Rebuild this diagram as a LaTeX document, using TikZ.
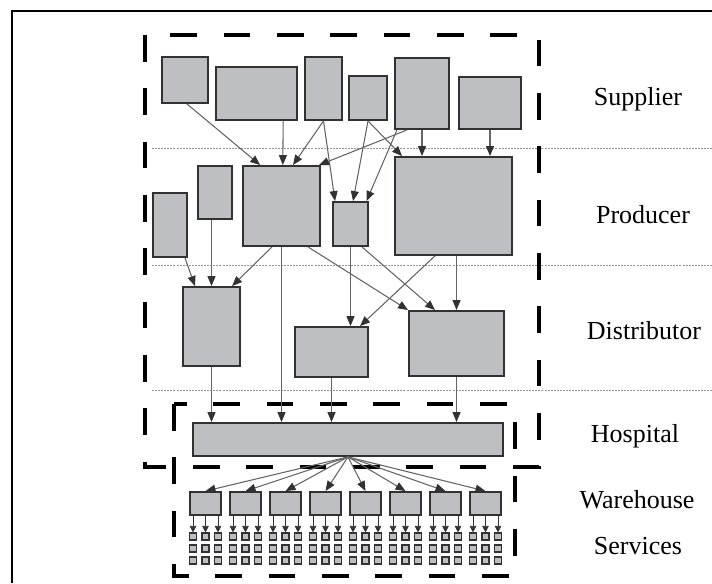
\documentclass[tikz,border=0pt]{standalone}
\usepackage{fontspec}
\setmainfont{Liberation Serif}
\usetikzlibrary{arrows.meta}

\definecolor{boxfill}{RGB}{190,191,195}
\definecolor{boxline}{RGB}{50,50,50}
\definecolor{arrline}{RGB}{100,100,100}
\definecolor{sepline}{RGB}{150,150,150}

\begin{document}
\begin{tikzpicture}[x=0.75pt,y=-0.75pt,
    box/.style={draw=boxline,fill=boxfill,line width=1.4pt,inner sep=0pt},
    svc/.style={draw=boxline,fill=boxfill,line width=1.1pt,inner sep=0pt,minimum size=5pt},
    arr/.style={arrline,line width=0.8pt,-{Triangle[length=7.5pt,width=6pt,color=boxline]}},
    smallarr/.style={boxline,line width=0.7pt,-{Triangle[length=5pt,width=5pt]}},
    group/.style={draw=black,line width=2.6pt,dash pattern=on 20pt off 20pt},
    sep/.style={draw=sepline,line width=0.7pt,dash pattern=on 1.5pt off 0.8pt},
    layer/.style={font=\fontsize{19.5}{22}\selectfont}]
  \useasboundingbox (0,0) rectangle (712,583);
  % frame
  \draw[line width=1.3pt] (12,583) -- (12,11) -- (712,11);

  % layer separators
  \draw[sep] (152,148) -- (712,148);
  \draw[sep] (152,265) -- (712,265);
  \draw[sep] (152,390) -- (712,390);

  % groups
  \draw[group] (145,35) rectangle (539,467);
  \draw[group] (174,404) rectangle (515,576);

  % suppliers
  \node[box,minimum width=34.5pt,minimum height=34.5pt] (s1) at (185,80) {};
  \node[box,minimum width=60.75pt,minimum height=39.75pt] (s2) at (256.5,93.5) {};
  \node[box,minimum width=27.75pt,minimum height=47.25pt] (s3) at (323.5,88.5) {};
  \node[box,minimum width=28.5pt,minimum height=33pt] (s4) at (368,98) {};
  \node[box,minimum width=40.5pt,minimum height=53.25pt] (s5) at (422,93.5) {};
  \node[box,minimum width=46.5pt,minimum height=39pt] (s6) at (490,103) {};

  % producers
  \node[box,minimum width=25.5pt,minimum height=48pt] (p1) at (170,225) {};
  \node[box,minimum width=25.5pt,minimum height=39.75pt] (p2) at (215,192.5) {};
  \node[box,minimum width=57.75pt,minimum height=60pt] (p3) at (281.5,206) {};
  \node[box,minimum width=26.25pt,minimum height=33pt] (p4) at (350.5,224) {};
  \node[box,minimum width=87.75pt,minimum height=73.5pt] (p5) at (453.5,206) {};

  % distributors
  \node[box,minimum width=42.75pt,minimum height=59.25pt] (d1) at (211.5,326.5) {};
  \node[box,minimum width=54.75pt,minimum height=37.5pt] (d2) at (331.5,352) {};
  \node[box,minimum width=71.25pt,minimum height=48.75pt] (d3) at (456.5,343.5) {};

  % hospital
  \node[box,minimum width=232.5pt,minimum height=24.75pt] (h) at (348,439.5) {};

  % warehouses and services
  \foreach \i in {0,...,7} {
    \node[box,minimum width=23.25pt,minimum height=17.25pt] (w\i) at (205.5+40*\i,503.5) {};
    \foreach \j/\dx in {1/-12.5,2/0,3/12.5} {
      \foreach \k/\y in {1/536.5,2/548.5,3/560.5}
        \node[svc] (v\i\j\k) at (205.5+40*\i+\dx,\y) {};
      \draw[smallarr] (w\i.south -| v\i\j1.north) -- (v\i\j1.north);
    }
    \draw[arr] (h.south) -- (w\i.north);
  }

  % supplier -> producer
  \path[arr]
    ([xshift=1.5pt]s1.south) edge ([xshift=-16pt]p3.north)
    ([xshift=20pt]s2.south) edge ([xshift=1pt]p3.north)
    (s3.south) edge ([xshift=8.6pt]p3.north)
               edge ([xshift=-11.6pt]p4.north)
    (s4.south) edge ([xshift=1.9pt]p4.north)
               edge ([xshift=6pt]p5.north west)
    ([xshift=-11.25pt]s5.south) edge ([xshift=-1.5pt]p3.north east)
    ([xshift=-18.75pt]s5.south) edge ([xshift=12pt]p4.north)
    (s5.south) edge (s5.south |- p5.north)
    (s6.south) edge (s6.south |- p5.north);

  % producer -> distributor
  \path[arr]
    ([xshift=11.25pt]p1.south) edge ([xshift=-12.4pt]d1.north)
    (p2.south -| d1.north) edge (d1.north)
    ([xshift=-7.1pt]p3.south) edge ([xshift=15.4pt]d1.north)
    ([xshift=19.9pt]p3.south) edge (d3.north west)
    (p4.south) edge (p4.south |- d2.north)
    ([xshift=8.6pt]p4.south) edge ([xshift=-16.1pt]d3.north)
    ([xshift=-13.9pt]p5.south) edge ([xshift=21.4pt]d2.north)
    (p5.south -| d3.north) edge (d3.north);

  % distributor -> hospital
  \path[arr]
    (p3.south) edge (p3.south |- h.north)
    (d1.south) edge (d1.south |- h.north)
    (d2.south) edge (d2.south |- h.north)
    (d3.south) edge (d3.south |- h.north);

  % layer names
  \node[layer] (lsup) at (638,99) {Supplier};
  \node[layer] (lpro) at (643,215) {Producer};
  \node[layer] (ldis) at (644,331) {Distributor};
  \node[layer] (lhos) at (635,436) {Hospital};
  \node[layer] (lwar) at (637,499.5) {Warehouse};
  \node[layer] (lser) at (638,546.5) {Services};
\end{tikzpicture}
\end{document}
